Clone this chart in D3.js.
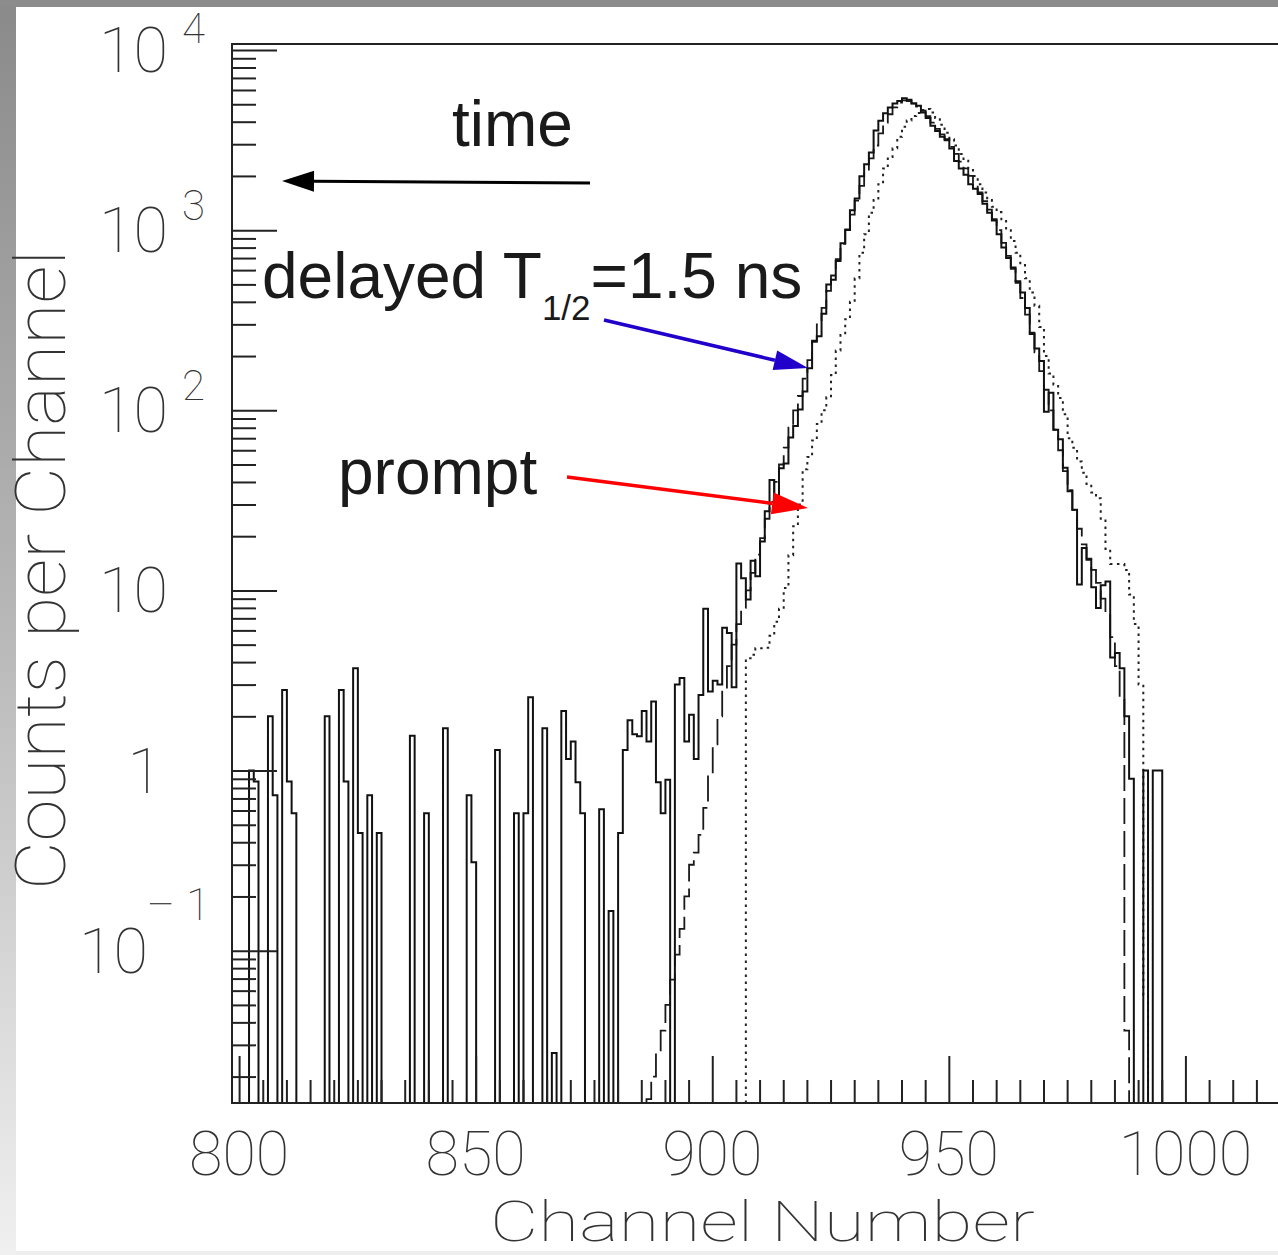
<!DOCTYPE html>
<html>
<head>
<meta charset="utf-8">
<script src="https://cdnjs.cloudflare.com/ajax/libs/d3/7.8.5/d3.min.js"></script>
<style>
  html, body { margin: 0; padding: 0; background: #fff; }
  svg { display: block; }
</style>
</head>
<body>
<div id="chart"></div>
<script>
const width = 1278;
const height = 1255;

// solid histogram (delayed data), one value per channel from delayedStart
const delayedStart = 799;
const delayedCounts = [
  0, 0, 0, 0, 1, 0.87, 0, 0, 2, 0.73,            // 799-808
  0, 2.8, 0.87, 0.58, 0, 0, 0, 0, 0, 0,           // 809-818
  2, 0, 0, 2.8, 0.87, 0, 3.7, 0.45, 0, 0.73,      // 819-828
  0, 0.45, 0, 0, 0, 0, 0, 0, 1.56, 0,             // 829-838
  0, 0.58, 0, 0, 0, 1.72, 0, 0, 0, 0,             // 839-848
  0.73, 0.31, 0, 0, 0, 0, 1.3, 0, 0, 0,           // 849-858
  0.58, 0, 0.58, 2.55, 0, 0, 1.72, 0, 0.027, 0,   // 859-868
  2.14, 1.16, 1.45, 0.86, 0.58, 0, 0, 0, 0.61, 0, // 869-878
  0.166, 0, 0.45, 1.3, 1.9, 1.59, 1.55, 2.14, 1.45, 2.42, // 879-888
  0.86, 0.58, 0.89, 0, 3.0, 3.26, 1.45, 2.04, 1.16, 2.63, // 889-898
  7.9, 2.75, 3.15, 3.0, 6.2, 5.8, 2.9, 14.1, 11.7, 8.9,   // 899-908
  14.6, 12, 18.7, 27.5, 41, 28, 47.6, 50.6, 70.6, 81.7,   // 909-918
  101, 127, 171, 243, 258, 343, 499, 530, 675, 845,       // 919-928
  1003, 1289, 1500, 1990, 2320, 2700, 3570, 4050, 4460, 4800, // 929-938
  5040, 5220, 5400, 5300, 5040, 4900, 4500, 4200, 3800, 3550, // 939-948
  3300, 3200, 2840, 2420, 2200, 2030, 1800, 1700, 1590, 1400, // 949-958
  1250, 1130, 950, 800, 700, 620, 520, 450, 370, 265,     // 959-968
  220, 188, 98, 125, 78, 69, 48, 35.5, 28, 10.8,          // 969-978
  17.2, 14.8, 10.4, 8.0, 10.7, 11.2, 4.24, 4.5, 3.7, 2.0, // 979-988
  0.9, 0, 0, 1, 0, 1, 1, 0, 0, 0                          // 989-998
];

// dashed histogram (fit to delayed)
const fitStart = 887;
const fitCounts = [
  0.015, 0.02, 0.027, 0.036, 0.05, 0.069, 0.095, 0.132, 0.2, 0.3,   // 887-896
  0.35, 0.44, 0.62, 0.95, 1.4, 2.0, 2.8, 3.8, 5.0, 6.5,             // 897-906
  8.0, 10, 12.5, 15.8, 19.5, 25, 31, 40, 50, 62,                    // 907-916
  80, 100, 120, 150, 190, 240, 300, 370, 460, 560,                  // 917-926
  690, 840, 1010, 1220, 1460, 1760, 2100, 2500, 2950, 3450,         // 927-936
  3950, 4400, 4800, 5100, 5250, 5200, 5050, 4850, 4600, 4300,       // 937-946
  3950, 3650, 3400, 3150, 2900, 2650, 2400, 2200, 2000, 1800,       // 947-956
  1620, 1450, 1300, 1150, 1000, 850, 720, 610, 510, 420,            // 957-966
  340, 270, 210, 165, 130, 100, 78, 60, 46, 36,                     // 967-976
  28, 22, 18, 15, 13, 11, 9, 7.5, 5.5, 3.8,                         // 977-986
  2.5, 0.036                                                        // 987-988
];

// dotted histogram (prompt)
const promptStart = 908;
const promptCounts = [
  4.2, 4.4, 4.77, 4.77, 4.8, 5.6, 6.7, 7.9, 10.3, 15.7,             // 908-917
  22.7, 30, 47, 55, 68, 84, 100, 118, 157, 215,                     // 918-927
  262, 320, 400, 540, 750, 950, 1250, 1470, 1800, 2200,             // 928-937
  2550, 2850, 3300, 3750, 4060, 4300, 4470, 4650, 4700, 4500,       // 938-947
  4200, 3850, 3470, 3200, 2950, 2650, 2430, 2200, 2000, 1800,       // 948-957
  1620, 1470, 1350, 1260, 1150, 1000, 870, 750, 640, 540,           // 958-967
  450, 380, 290, 200, 160, 139, 117, 95, 70, 62,                    // 968-977
  52, 45, 39, 35, 32.5, 25, 17, 14, 14, 14,                         // 978-987
  13, 9.5, 6.5, 3, 0.057                                            // 988-992
];

const xMajorTicks = [800, 850, 900, 950, 1000];
const xMinorTicks = d3.range(805, 1020, 5).filter(d => d % 50 !== 0);
const yDecades = [-1, 0, 1, 2, 3, 4];

// frame
const frameLeft = 232, frameRight = 1281, frameTop = 44, frameBottom = 1103;

const x = d3.scaleLinear().domain([798.5, 1020.2]).range([frameLeft, frameRight]);
const y = d3.scaleLog().domain([0.01427, 10800]).range([frameBottom, frameTop]);
const binShift = -0.4;

const svg = d3.select('#chart').append('svg').
  attr('width', width).
  attr('height', height);

// grey page edges
const defs = svg.append('defs');
const grad = defs.append('linearGradient').
  attr('id', 'edge').
  attr('x1', 0).attr('y1', 0).attr('x2', 0).attr('y2', 1);
grad.append('stop').attr('offset', '0%').attr('stop-color', '#8a8a8a');
grad.append('stop').attr('offset', '50%').attr('stop-color', '#b8b8b8');
grad.append('stop').attr('offset', '100%').attr('stop-color', '#f0f0f0');
svg.append('rect').attr('x', 0).attr('y', 0).attr('width', width).attr('height', height).attr('fill', '#fff');
svg.append('rect').attr('x', 0).attr('y', 0).attr('width', 16).attr('height', height).attr('fill', 'url(#edge)');
svg.append('rect').attr('x', 0).attr('y', 0).attr('width', width).attr('height', 7).attr('fill', '#8c8c8c');
svg.append('rect').attr('x', 16).attr('y', height - 4).attr('width', width).attr('height', 4).attr('fill', '#eeeeee');

defs.append('clipPath').attr('id', 'frameClip').
  append('rect').attr('x', frameLeft).attr('y', frameTop).
  attr('width', frameRight - frameLeft).attr('height', frameBottom - frameTop);

//build the outline of a histogram: flat top per bin, empty bins sit on the floor
function stepPoints(start, counts){
  let pts = [];
  counts.forEach((v, i) => {
    const c = start + i;
    const yy = v > 0 ? Math.min(y(v), frameBottom) : frameBottom;
    pts.push([x(c - 0.5 + binShift), yy]);
    pts.push([x(c + 0.5 + binShift), yy]);
  });
  pts.unshift([pts[0][0], frameBottom]);
  pts.push([pts[pts.length - 1][0], frameBottom]);
  return pts;
}

const line = d3.line();
const plot = svg.append('g').attr('clip-path', 'url(#frameClip)');

plot.append('path').
  attr('d', line(stepPoints(promptStart, promptCounts))).
  attr('fill', 'none').
  attr('stroke', '#222').
  attr('stroke-width', 2).
  attr('stroke-dasharray', '2.5,4.5');

plot.append('path').
  attr('d', line(stepPoints(fitStart, fitCounts))).
  attr('fill', 'none').
  attr('stroke', '#1a1a1a').
  attr('stroke-width', 1.8).
  attr('stroke-dasharray', '26,7');

plot.append('path').
  attr('d', line(stepPoints(delayedStart, delayedCounts))).
  attr('fill', 'none').
  attr('stroke', '#111').
  attr('stroke-width', 2);

// ticks, drawn inside the frame
let yMinor = [];
yDecades.concat([-2]).forEach(e => {
  for(let m = 2; m <= 9; m++){
    const v = m * Math.pow(10, e);
    if(v > y.domain()[0] && v < y.domain()[1]) yMinor.push(v);
  }
});
const yMajor = yDecades.map(e => Math.pow(10, e));

function styleAxis(g){
  g.select('.domain').remove();
  g.selectAll('.tick line').attr('stroke', '#222').attr('stroke-width', 2);
  g.selectAll('.tick text').remove();
}

svg.append('g').attr('transform', `translate(${frameLeft},0)`).
  call(d3.axisLeft(y).tickValues(yMinor).tickSize(-24)).call(styleAxis);
svg.append('g').attr('transform', `translate(${frameLeft},0)`).
  call(d3.axisLeft(y).tickValues(yMajor).tickSize(-45)).call(styleAxis);
svg.append('g').attr('transform', `translate(0,${frameBottom})`).
  call(d3.axisBottom(x).tickValues(xMinorTicks).tickSize(-23)).call(styleAxis);
svg.append('g').attr('transform', `translate(0,${frameBottom})`).
  call(d3.axisBottom(x).tickValues(xMajorTicks).tickSize(-47)).call(styleAxis);

// frame lines
svg.append('path').
  attr('d', `M${frameRight},${frameTop}H${frameLeft}V${frameBottom}H${frameRight}`).
  attr('fill', 'none').
  attr('stroke', '#222').
  attr('stroke-width', 2);

// tick labels in a thin font, like the stroke font of the original
const tickFont = 'Roboto, "DejaVu Sans", sans-serif';
const labels = svg.append('g').
  attr('font-family', tickFont).
  attr('font-weight', 100).
  attr('fill', '#333');

yDecades.forEach(e => {
  const ty = y(Math.pow(10, e));
  if(e === 0){
    labels.append('text').attr('x', 162).attr('y', ty + 22).
      attr('text-anchor', 'end').attr('font-size', 63).text('1');
  } else if(e === 1){
    labels.append('text').attr('x', 168).attr('y', ty + 22).
      attr('text-anchor', 'end').attr('font-size', 63).text('10');
  } else if(e < 0){
    labels.append('text').attr('x', 148).attr('y', ty + 22).
      attr('text-anchor', 'end').attr('font-size', 63).text('10');
    labels.append('text').attr('x', 146).attr('y', ty - 31).attr('font-size', 44).
      attr('textLength', 30).attr('lengthAdjust', 'spacingAndGlyphs').text('\u2212');
    labels.append('text').attr('x', 186).attr('y', ty - 31).attr('font-size', 44).text(-e);
  } else {
    labels.append('text').attr('x', 182).attr('y', Math.max(ty - 10, 43)).
      attr('font-size', 42).text(e);
    labels.append('text').attr('x', 168).attr('y', ty + 22).
      attr('text-anchor', 'end').attr('font-size', 63).text('10');
  }
});

xMajorTicks.forEach(t => {
  labels.append('text').
    attr('x', x(t)).
    attr('y', 1175).
    attr('text-anchor', 'middle').
    attr('font-size', 61).
    text(t);
});

labels.append('text').
  attr('x', 490).
  attr('y', 1241).
  attr('font-size', 55).
  attr('textLength', 545).
  attr('lengthAdjust', 'spacingAndGlyphs').
  text('Channel Number');

labels.append('text').
  attr('transform', 'translate(65,890) rotate(-90)').
  attr('font-size', 70).
  attr('textLength', 640).
  attr('lengthAdjust', 'spacingAndGlyphs').
  text('Counts per Channel');

// annotations
const notes = svg.append('g').
  attr('font-family', '"Liberation Sans", Arial, sans-serif').
  attr('fill', '#1a1a1a');

notes.append('text').attr('x', 452).attr('y', 146).attr('font-size', 64).text('time');

const delayed = notes.append('text').attr('x', 262).attr('y', 298).attr('font-size', 64);
delayed.append('tspan').text('delayed T');
delayed.append('tspan').attr('font-size', 35).attr('dy', 22).text('1/2');
delayed.append('tspan').attr('dy', -22).text('=1.5 ns');

notes.append('text').attr('x', 338).attr('y', 494).attr('font-size', 64).text('prompt');

function arrow(x1, y1, x2, y2, color, width, headLen, headHalf){
  const ang = Math.atan2(y2 - y1, x2 - x1);
  const bx = x2 - headLen * Math.cos(ang);
  const by = y2 - headLen * Math.sin(ang);
  svg.append('line').
    attr('x1', x1).attr('y1', y1).attr('x2', bx).attr('y2', by).
    attr('stroke', color).attr('stroke-width', width);
  const px = -Math.sin(ang) * headHalf, py = Math.cos(ang) * headHalf;
  svg.append('path').
    attr('d', `M${x2},${y2}L${bx + px},${by + py}L${bx - px},${by - py}Z`).
    attr('fill', color);
}

arrow(590, 183, 282, 181, '#000', 3, 32, 10.5);
arrow(604, 320, 808, 368, '#2200cc', 3.5, 34, 10);
arrow(567, 477, 808, 508, '#ff0000', 3.5, 36, 11);
</script>
</body>
</html>
